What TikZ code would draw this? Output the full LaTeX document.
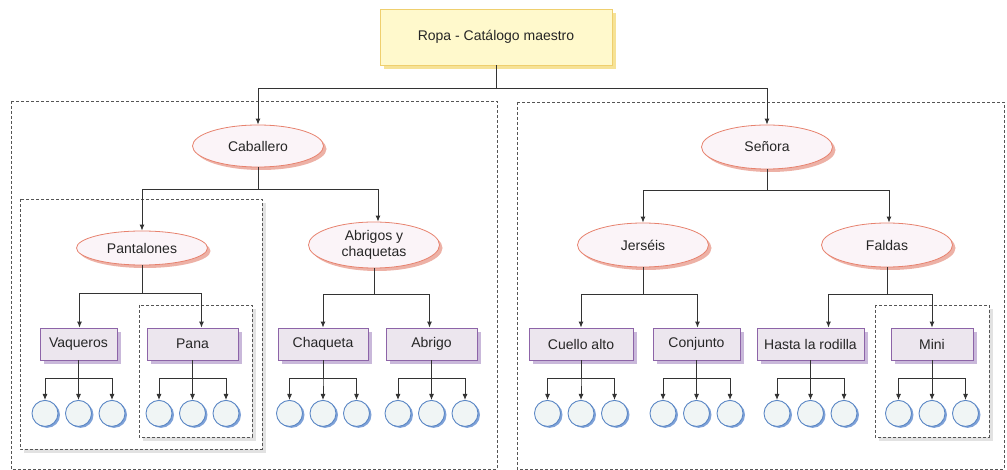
\documentclass[tikz,border=0pt]{standalone}
\usepackage{fontspec}
\setmainfont{Liberation Sans}
\usetikzlibrary{shapes.geometric,arrows.meta,shadows}

\definecolor{topfill}{HTML}{FFF9CC}
\definecolor{topdraw}{HTML}{EFCF6E}
\definecolor{topshadow}{HTML}{F6E296}
\definecolor{ellfill}{HTML}{FBF4F8}
\definecolor{elldraw}{HTML}{E7826E}
\definecolor{ellshadow}{HTML}{EDB1A6}
\definecolor{boxfill}{HTML}{ECE6EE}
\definecolor{boxdraw}{HTML}{8D64A8}
\definecolor{boxshadow}{HTML}{C9B8DA}
\definecolor{leaffill}{HTML}{F0F5F5}
\definecolor{leafdraw}{HTML}{5B87C5}
\definecolor{leafshadow}{HTML}{7FA2D8}
\definecolor{linecol}{HTML}{333333}
\definecolor{framecol}{HTML}{555555}
\definecolor{frameshadow}{HTML}{E2E2E2}

\tikzset{
  every node/.style={font=\fontsize{14}{16}\selectfont, text=black!85},
  master/.style={rectangle, draw=topdraw, fill=topfill, line width=0.8pt,
    minimum width=232pt, minimum height=56pt,
    general shadow={fill=topshadow, shadow xshift=4pt, shadow yshift=-4pt}},
  group/.style={ellipse, draw=elldraw, fill=ellfill, line width=0.8pt,
    minimum width=131pt, inner sep=0pt, align=center,
    general shadow={fill=ellshadow, shadow xshift=3pt, shadow yshift=-3pt}},
  item/.style={rectangle, draw=boxdraw, fill=boxfill, line width=0.8pt,
    minimum height=32pt, inner sep=0pt,
    general shadow={fill=boxshadow, shadow xshift=4pt, shadow yshift=-4pt}},
  leaf/.style={circle, draw=leafdraw, fill=leaffill, line width=0.9pt,
    minimum size=26pt, inner sep=0pt,
    general shadow={fill=leafshadow, shadow xshift=2pt, shadow yshift=-1.5pt}},
  frame/.style={draw=framecol, line width=0.7pt, dash pattern=on 3pt off 2pt},
  subframe/.style={frame, fill=white,
    general shadow={fill=frameshadow, shadow xshift=4pt, shadow yshift=-4pt}},
  conn/.style={draw=linecol, line width=0.9pt, -{Latex[length=6pt,width=5pt]}}
}

\begin{document}
\begin{tikzpicture}[x=1pt, y=-1pt]
\useasboundingbox (0,0) rectangle (1007,470);

% Frames
\draw[frame] (11,101) rectangle (497,469);
\draw[frame] (517,102) rectangle (1004,469);
\draw[subframe] (20,199) rectangle (262,449);
\draw[subframe] (139,305) rectangle (252,437);
\draw[subframe] (875,305) rectangle (989,437);

% Master catalogue
\node[master] (top) at (496,37) {Ropa - Catálogo maestro};

% Departments
\node[group, minimum height=42pt] (caballero) at (258,146) {Caballero};
\node[group, minimum height=44pt] (senora) at (767,147) {Señora};

% Categories
\node[group, minimum height=34pt] (pantalones) at (142,248) {Pantalones};
\node[group, minimum height=46pt] (abrigos) at (374,245) {Abrigos y\\chaquetas};
\node[group, minimum height=44pt] (jerseis) at (643,245) {Jerséis};
\node[group, minimum height=44pt] (faldas) at (887,245) {Faldas};

% Products
\node[item, minimum width=77pt] (vaqueros) at (78.5,344) {Vaqueros};
\node[item, minimum width=91pt] (pana) at (192.5,344) {Pana};
\node[item, minimum width=90pt] (chaqueta) at (323,344) {Chaqueta};
\node[item, minimum width=91pt] (abrigo) at (431.5,344) {Abrigo};
\node[item, minimum width=104pt] (cuello) at (581,344) {Cuello alto};
\node[item, minimum width=87pt] (conjunto) at (696.5,344) {Conjunto};
\node[item, minimum width=107pt] (rodilla) at (810.5,344) {Hasta la rodilla};
\node[item, minimum width=82pt] (mini) at (932,344) {Mini};

% Tree connectors
\foreach \p/\c/\d/\s in {top/caballero/23/0, top/senora/23/0,
    caballero/pantalones/22/0, caballero/abrigos/22/4,
    senora/jerseis/21/0, senora/faldas/21/2,
    pantalones/vaqueros/28/1, pantalones/pana/28/9,
    abrigos/chaqueta/26/0, abrigos/abrigo/26/-2,
    jerseis/cuello/27/0, jerseis/conjunto/27/1,
    faldas/rodilla/27/18, faldas/mini/27/0}
  \draw[conn] (\p.south) -- ++(0,\d) -| ([xshift=\s pt]\c.north);

% Leaves
\foreach \b in {vaqueros,pana,chaqueta,abrigo,cuello,conjunto,rodilla,mini}{
  \foreach \i/\dx in {1/-33.5,2/0,3/33.5}{
    \node[leaf] (\b-\i) at ([xshift=\dx pt, yshift=-53pt]\b.south) {};
    \draw[conn] (\b.south) -- ++(0,18) -| (\b-\i.north);
  }
}

\end{tikzpicture}
\end{document}
